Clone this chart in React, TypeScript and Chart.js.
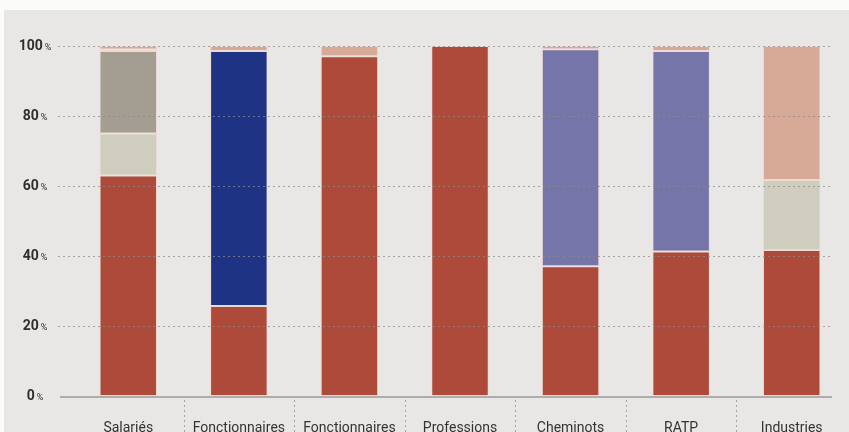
import React, { useEffect, useRef } from "react";
import { Chart, registerables } from "chart.js";

Chart.register(...registerables);

const categories = ["Salariés", "Fonctionnaires", "Fonctionnaires", "Professions", "Cheminots", "RATP", "Industries"];
const yTicks = [0, 20, 40, 60, 80, 100];

const seriesRed = [63, 25.7, 97.1, 100, 37.1, 41.3, 41.7];
const seriesBeige = [12, 0, 0, 0, 0, 0, 20];
const seriesTaupe = [23.6, 0, 0, 0, 0, 0, 0];
const seriesBlue = [0, 72.9, 0, 0, 0, 0, 0];
const seriesLavender = [0.4, 0, 0, 0, 62, 57.3, 0];
const seriesPink = [1, 1.4, 2.9, 0, 0.9, 1.4, 38.3];

const BG = "#e8e7e5";

const decor = {
  id: "decor",
  beforeDraw(chart: any) {
    const { ctx } = chart;
    ctx.save();
    ctx.fillStyle = "#fbfbfa";
    ctx.fillRect(0, 0, chart.width, chart.height);
    ctx.fillStyle = BG;
    ctx.fillRect(4, 10, chart.width - 4, chart.height - 10);
    ctx.restore();
  },
  afterDatasetsDraw(chart: any) {
    const { ctx } = chart;
    const y = chart.scales.y;
    const x = chart.scales.x;
    ctx.save();
    // dotted grid lines
    ctx.strokeStyle = "rgba(140,140,140,0.75)";
    ctx.lineWidth = 1;
    ctx.setLineDash([2, 3]);
    yTicks.forEach((v) => {
      if (v === 0) return;
      const py = Math.round(y.getPixelForValue(v)) + 0.5;
      ctx.beginPath();
      ctx.moveTo(58, py);
      ctx.lineTo(833, py);
      ctx.stroke();
    });
    // vertical separators below axis
    const y0 = y.getPixelForValue(0);
    for (let i = 0; i < categories.length - 1; i++) {
      const px = Math.round((x.getPixelForValue(i) + x.getPixelForValue(i + 1)) / 2) + 0.5;
      ctx.beginPath();
      ctx.moveTo(px, y0 + 4);
      ctx.lineTo(px, chart.height);
      ctx.stroke();
    }
    ctx.setLineDash([]);
    // axis line
    ctx.strokeStyle = "#9a9a9a";
    ctx.lineWidth = 1.5;
    ctx.beginPath();
    ctx.moveTo(60, y0 + 1);
    ctx.lineTo(832, y0 + 1);
    ctx.stroke();
    // y labels
    ctx.fillStyle = "#2f2f2f";
    ctx.textBaseline = "middle";
    yTicks.forEach((v) => {
      const py = y.getPixelForValue(v);
      const num = String(v);
      ctx.font = "bold 14px Roboto";
      const wn = ctx.measureText(num).width;
      ctx.font = "9px Roboto";
      const wp = ctx.measureText("%").width;
      const total = wn + 2 + wp;
      const sx = 35 - total / 2;
      ctx.font = "bold 14px Roboto";
      ctx.textAlign = "left";
      ctx.fillText(num, sx, py);
      ctx.font = "9px Roboto";
      ctx.fillText("%", sx + wn + 2, py + 2);
    });
    // x labels
    ctx.font = "14px Roboto";
    ctx.textAlign = "center";
    ctx.textBaseline = "alphabetic";
    ctx.fillStyle = "#333";
    categories.forEach((c, i) => {
      ctx.fillText(c, x.getPixelForValue(i), 432);
    });
    ctx.restore();
  },
};

export default function App() {
  const ref = useRef<HTMLCanvasElement>(null);
  useEffect(() => {
    document.body.style.margin = "0";
    const border = "rgba(240,215,205,0.8)";
    const mk = (label: string, data: number[], color: string) => ({
      label,
      data,
      backgroundColor: color,
      borderColor: border,
      borderWidth: 1,
      borderSkipped: false,
      categoryPercentage: 1,
      barPercentage: 0.52,
    });
    const chart = new Chart(ref.current!, {
      type: "bar",
      data: {
        labels: categories,
        datasets: [
          mk("Régime général", seriesRed, "#ad4a3a"),
          mk("Complémentaire", seriesBeige, "#cfcdbd"),
          mk("Autres", seriesTaupe, "#a49d91"),
          mk("Régime des fonctionnaires", seriesBlue, "#1f3384"),
          mk("Régimes spéciaux", seriesLavender, "#7575a9"),
          mk("Divers", seriesPink, "#d7a997"),
        ],
      },
      options: {
        animation: false,
        responsive: false,
        layout: { padding: { left: 73, right: 2, top: 46, bottom: 36 } },
        plugins: { legend: { display: false }, tooltip: { enabled: false } },
        scales: {
          x: { stacked: true, display: false },
          y: { stacked: true, display: false, min: 0, max: 100 },
        },
      },
      plugins: [decor],
    });
    return () => chart.destroy();
  }, []);
  return (
    <div style={{ width: 849, height: 432 }}>
      <canvas ref={ref} width={849} height={432} style={{ display: "block" }} />
    </div>
  );
}
